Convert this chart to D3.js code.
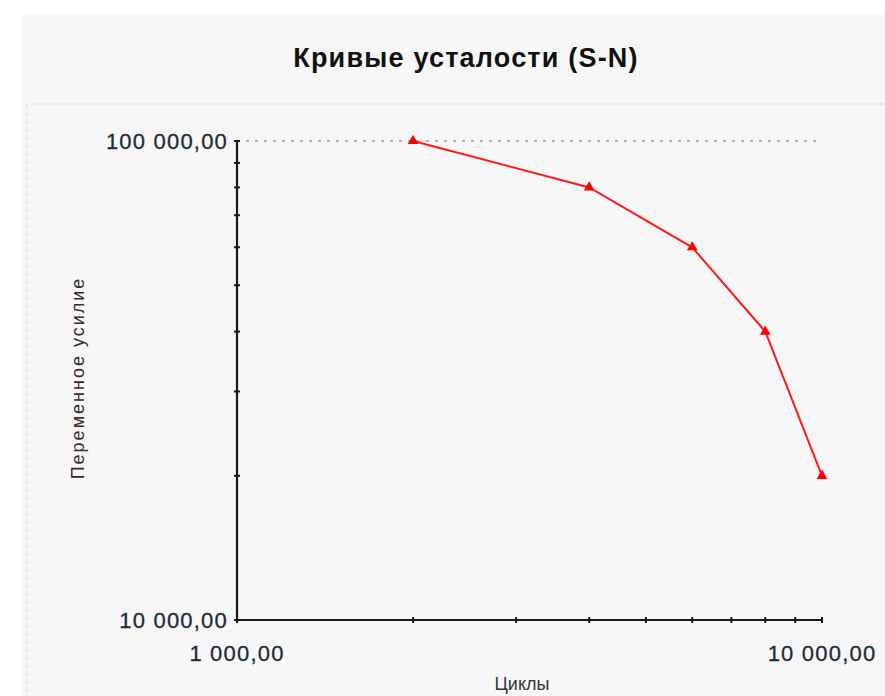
<!DOCTYPE html>
<html>
<head>
<meta charset="utf-8">
<script src="https://cdn.jsdelivr.net/npm/d3@7"></script>
<style>
  body { margin: 0; background: #fff; }
  text { font-family: "Liberation Sans", Arial, sans-serif; }
</style>
</head>
<body>
<svg id="chart" width="885" height="696"></svg>
<script>
const cycles = [2000, 4000, 6000, 8000, 10000];
const force = [100000, 80000, 60000, 40000, 20000];
const xTickValues = [1000, 10000];
const yTickValues = [10000, 100000];
const xMinor = [2000, 3000, 4000, 5000, 6000, 7000, 8000, 9000];
const yMinor = [20000, 30000, 40000, 50000, 60000, 70000, 80000, 90000];

const svg = d3.select("#chart");

// panel background
svg.append("rect")
  .attr("x", 22).attr("y", 14)
  .attr("width", 885).attr("height", 700)
  .attr("fill", "#f7f7f7");

// faint dashed frame of the plot area
svg.append("path")
  .attr("d", "M27,700 L27,104 L885,104")
  .attr("fill", "none")
  .attr("stroke", "#e3e3e3")
  .attr("stroke-width", 1.5)
  .attr("stroke-dasharray", "5,3");

const x = d3.scaleLog().domain([1000, 10000]).range([237, 822]);
const y = d3.scaleLog().domain([10000, 100000]).range([620, 141]);

const fmt = v => d3.format(",.2f")(v).replace(/,/g, " ").replace(".", ",");

// title
svg.append("text")
  .attr("x", 466).attr("y", 67)
  .attr("text-anchor", "middle")
  .attr("font-size", 27)
  .attr("font-weight", "bold")
  .attr("letter-spacing", "1.2")
  .attr("fill", "#111")
  .text("Кривые усталости (S-N)");

// top grid line
svg.append("g")
  .selectAll("line")
  .data([100000])
  .join("line")
  .attr("x1", x(1000)).attr("x2", x(10000))
  .attr("y1", d => y(d)).attr("y2", d => y(d))
  .attr("stroke", "#9a9a9a")
  .attr("stroke-width", 1.5)
  .attr("stroke-dasharray", "3,6");

// axes lines
const axisColor = "#1a1a1a";
svg.append("line")
  .attr("x1", x(1000)).attr("x2", x(1000))
  .attr("y1", y(100000)).attr("y2", y(10000))
  .attr("stroke", axisColor).attr("stroke-width", 2.2);
svg.append("line")
  .attr("x1", x(1000)).attr("x2", x(10000))
  .attr("y1", y(10000)).attr("y2", y(10000))
  .attr("stroke", axisColor).attr("stroke-width", 2.2);

// minor ticks
svg.append("g")
  .selectAll("line")
  .data(yMinor.concat(yTickValues))
  .join("line")
  .attr("x1", x(1000) - 3).attr("x2", x(1000) + 3)
  .attr("y1", d => y(d)).attr("y2", d => y(d))
  .attr("stroke", axisColor).attr("stroke-width", 2);
svg.append("g")
  .selectAll("line")
  .data(xMinor.concat(xTickValues))
  .join("line")
  .attr("x1", d => x(d)).attr("x2", d => x(d))
  .attr("y1", y(10000) - 3).attr("y2", y(10000) + 3)
  .attr("stroke", axisColor).attr("stroke-width", 2);

// tick labels
svg.append("g")
  .selectAll("text")
  .data(yTickValues)
  .join("text")
  .attr("x", x(1000) - 9)
  .attr("y", d => y(d) + 8)
  .attr("text-anchor", "end")
  .attr("font-size", 22)
  .attr("letter-spacing", "1.2")
  .attr("fill", "#1d2b3a")
  .attr("stroke", "#1d2b3a")
  .attr("stroke-width", 0.3)
  .text(fmt);
svg.append("g")
  .selectAll("text")
  .data(xTickValues)
  .join("text")
  .attr("x", d => x(d))
  .attr("y", y(10000) + 41)
  .attr("text-anchor", "middle")
  .attr("font-size", 22)
  .attr("letter-spacing", "1.2")
  .attr("fill", "#1d2b3a")
  .attr("stroke", "#1d2b3a")
  .attr("stroke-width", 0.3)
  .text(fmt);

// axis titles
svg.append("text")
  .attr("transform", "translate(84,378) rotate(-90)")
  .attr("text-anchor", "middle")
  .attr("font-size", 18)
  .attr("letter-spacing", "2")
  .attr("fill", "#3a2a2a")
  .text("Переменное усилие");
svg.append("text")
  .attr("x", 522).attr("y", 690)
  .attr("text-anchor", "middle")
  .attr("font-size", 18)
  .attr("fill", "#3a3040")
  .text("Циклы");

// series
const pts = cycles.map((c, i) => [c, force[i]]);
svg.append("path")
  .datum(pts)
  .attr("fill", "none")
  .attr("stroke", "#ff1a1a")
  .attr("stroke-width", 2)
  .attr("d", d3.line().x(d => x(d[0])).y(d => y(d[1])));

svg.append("g")
  .selectAll("path")
  .data(pts)
  .join("path")
  .attr("transform", d => `translate(${x(d[0])},${y(d[1])})`)
  .attr("d", d3.symbol().type(d3.symbolTriangle).size(50))
  .attr("fill", "#ff0000");
</script>
</body>
</html>
